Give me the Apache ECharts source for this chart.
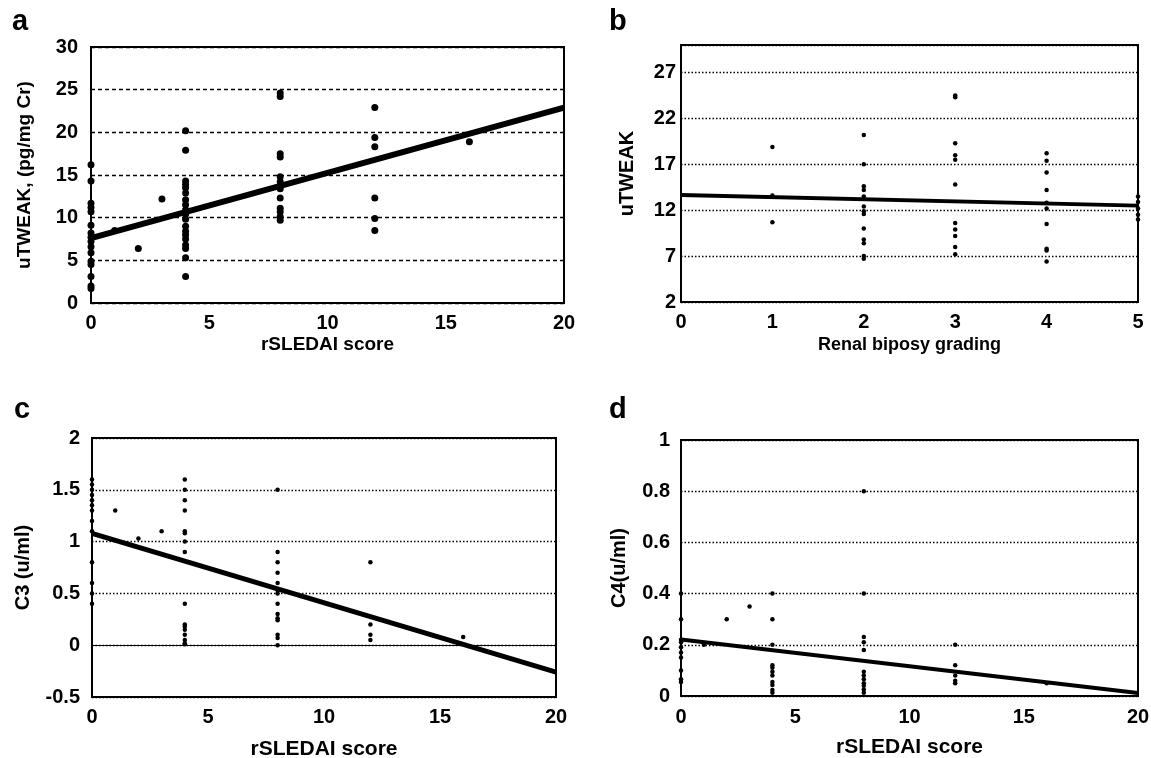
<!DOCTYPE html>
<html>
<head>
<meta charset="utf-8">
<script src="https://cdn.jsdelivr.net/npm/echarts@6.0.0/dist/echarts.min.js"></script>
<style>
  html, body { margin:0; padding:0; background:#fff; }
  #main { width:1151px; height:758px; }
</style>
</head>
<body>
<div id="main"></div>
<script>

// panel a : uTWEAK vs rSLEDAI
var aScore = [0,0,0,0,0,0,0,0,0,0,0,0,0,0,0,0, 1, 2, 3,
              4,4,4,4,4,4,4,4,4,4,4,4,4,4,4,4,4,4,4,
              8,8,8,8,8,8,8,8,8,8,8,8, 12,12,12,12,12,12, 16];
var aTweak = [16.2,14.3,11.7,11.2,10.7,9.1,8.2,7.7,7.2,6.6,5.9,4.9,4.5,3.1,2.0,1.7, 8.5, 6.4, 12.2,
              20.2,17.9,14.3,13.9,13.5,12.9,12.1,11.5,10.9,10.4,9.8,9.0,8.4,8.0,7.5,6.8,6.4,5.3,3.1,
              24.6,24.2,17.5,17.1,14.8,14.2,13.4,12.3,11.1,10.7,10.1,9.7, 22.9,19.4,18.3,12.3,9.9,8.5, 18.9];
var aFit = [[0, 7.6], [20, 22.9]];

// panel b : uTWEAK vs renal biopsy grading
var bGrade = [1,1,1, 2,2,2,2,2,2,2,2,2,2,2,2,2, 3,3,3,3,3,3,3,3,3,3,3,
              4,4,4,4,4,4,4,4,4,4, 5,5,5,5,5];
var bTweak = [18.9,13.6,10.7, 20.2,17.0,14.6,14.2,13.5,12.4,11.9,11.6,10.0,8.8,8.4,7.0,6.7,
              24.5,24.3,19.3,18.0,17.5,14.8,10.6,9.9,9.2,8.0,7.2,
              18.2,17.4,16.1,14.2,12.8,12.2,10.5,7.8,7.6,6.4, 13.5,12.9,12.2,11.5,11.0];
var bFit = [[0, 13.65], [5, 12.5]];

// panel c : C3 vs rSLEDAI
var cScore = [0,0,0,0,0,0,0,0,0,0,0,0,0, 1, 2, 3,
              4,4,4,4,4,4,4,4,4,4,4,4,4,4,4,4,
              8,8,8,8,8,8,8,8,8,8,8,8,8,8, 12,12,12,12, 16];
var cC3 = [1.6,1.55,1.5,1.45,1.4,1.35,1.3,1.2,1.1,0.8,0.6,0.5,0.4, 1.3, 1.03, 1.1,
           1.6,1.5,1.4,1.3,1.1,1.08,1.0,0.9,0.4,0.2,0.18,0.15,0.1,0.05,0.02,0.01,
           1.5,0.9,0.8,0.7,0.6,0.53,0.5,0.4,0.3,0.26,0.24,0.1,0.07,0.0, 0.8,0.2,0.1,0.05, 0.08];
var cFit = [[0, 1.08], [20, -0.26]];

// panel d : C4 vs rSLEDAI
var dScore = [0,0,0,0,0,0,0,0,0,0, 1, 2, 3,
              4,4,4,4,4,4,4,4,4,4,4,
              8,8,8,8,8,8,8,8,8,8,8,8, 12,12,12,12,12, 16];
var dC4 = [0.4,0.3,0.22,0.21,0.19,0.17,0.15,0.1,0.065,0.055, 0.2, 0.3, 0.35,
           0.4,0.3,0.2,0.12,0.11,0.095,0.08,0.055,0.043,0.023,0.013,
           0.8,0.4,0.23,0.21,0.18,0.095,0.08,0.065,0.05,0.04,0.025,0.013, 0.2,0.12,0.08,0.06,0.05, 0.05];
var dFit = [[0, 0.221], [20, 0.012]];

var FONT = "'Liberation Sans', Arial, sans-serif";

var zip = function(xs, ys){
  var out = [], i;
  for(i = 0; i < xs.length; ++i) out.push([xs[i], ys[i]]);
  return out;
};

var grids = [
  { left: 91,  top: 47,  width: 473, height: 256 },
  { left: 681, top: 45,  width: 457, height: 257 },
  { left: 92,  top: 438, width: 464, height: 259 },
  { left: 681, top: 440, width: 457, height: 256 }
];
grids.forEach(function(g){
  g.show = true; g.borderColor = '#000'; g.borderWidth = 2; g.backgroundColor = '#fff';
  g.outerBoundsMode = 'none';   // keep the plot boxes where they are
  g.containLabel = false;
});

var lbl = function(size, margin){
  return { color: '#000', fontFamily: FONT, fontWeight: 'bold', fontSize: size, margin: margin };
};

var xAxisOf = function(i, max, interval, name, nameSize, nameGap, margin){
  return {
    gridIndex: i, type: 'value', min: 0, max: max, interval: interval,
    axisLine: { show: false }, axisTick: { show: false }, splitLine: { show: false },
    axisLabel: lbl(20, margin),
    name: name, nameLocation: 'middle', nameGap: nameGap,
    nameTextStyle: { color: '#000', fontFamily: FONT, fontWeight: 'bold', fontSize: nameSize }
  };
};

var yAxisOf = function(i, min, max, interval, name, nameSize, nameGap, margin, dash){
  return {
    gridIndex: i, type: 'value', min: min, max: max, interval: interval,
    axisLine: { show: false }, axisTick: { show: false },
    splitLine: { show: true, lineStyle: { color: '#000', width: 1.3, type: dash } },
    axisLabel: Object.assign(lbl(20, margin), { showMaxLabel: i != 1 }),
    name: name, nameLocation: 'middle', nameGap: nameGap,
    nameTextStyle: { color: '#000', fontFamily: FONT, fontWeight: 'bold', fontSize: nameSize }
  };
};

var dotted = [1.5, 2];

var scatterOf = function(i, data, size){
  return { type: 'scatter', xAxisIndex: i, yAxisIndex: i, data: data, symbolSize: size,
           itemStyle: { color: '#000', opacity: 1 }, clip: false, silent: true };
};
var fitOf = function(i, data, width){
  return { type: 'line', xAxisIndex: i, yAxisIndex: i, data: data, symbol: 'none',
           lineStyle: { color: '#000', width: width }, z: 3, silent: true };
};

var letter = function(t, x, y){
  return { text: t, left: x, top: y,
           textStyle: { color: '#000', fontFamily: FONT, fontWeight: 'bold', fontSize: 29 } };
};

var c3fit = fitOf(2, cFit, 5);
c3fit.markLine = { silent: true, symbol: 'none', label: { show: false },
                   lineStyle: { color: '#000', width: 1.2, type: 'solid' },
                   data: [{ yAxis: 0 }] };

var option = {
  animation: false,
  backgroundColor: '#fff',
  title: [ letter('a', 7, 2), letter('b', 604, 2), letter('c', 9, 390), letter('d', 604, 390) ],
  grid: grids,
  xAxis: [
    xAxisOf(0, 20, 5, 'rSLEDAI score', 19, 32, 10),
    xAxisOf(1, 5, 1, 'Renal biposy grading', 18, 34, 10),
    xAxisOf(2, 20, 5, 'rSLEDAI score', 21, 42, 10),
    xAxisOf(3, 20, 5, 'rSLEDAI score', 21, 41, 11)
  ],
  yAxis: [
    yAxisOf(0, 0, 30, 5, 'uTWEAK, (pg/mg Cr)', 19, 57, 13, [4, 3]),
    yAxisOf(1, 2, 30, 5, 'uTWEAK', 20, 44, 5, dotted),
    yAxisOf(2, -0.5, 2, 0.5, 'C3 (u/ml)', 20, 59, 12, dotted),
    yAxisOf(3, 0, 1, 0.2, 'C4(u/ml)', 20, 52, 11, dotted)
  ],
  series: [
    scatterOf(0, zip(aScore, aTweak), 7),
    fitOf(0, aFit, 6),
    scatterOf(1, zip(bGrade, bTweak), 4.5),
    fitOf(1, bFit, 4),
    scatterOf(2, zip(cScore, cC3), 4.5),
    c3fit,
    scatterOf(3, zip(dScore, dC4), 4.5),
    fitOf(3, dFit, 4)
  ]
};

var chart = echarts.init(document.getElementById('main'), null, { renderer: 'canvas' });
chart.setOption(option);
</script>
</body>
</html>
